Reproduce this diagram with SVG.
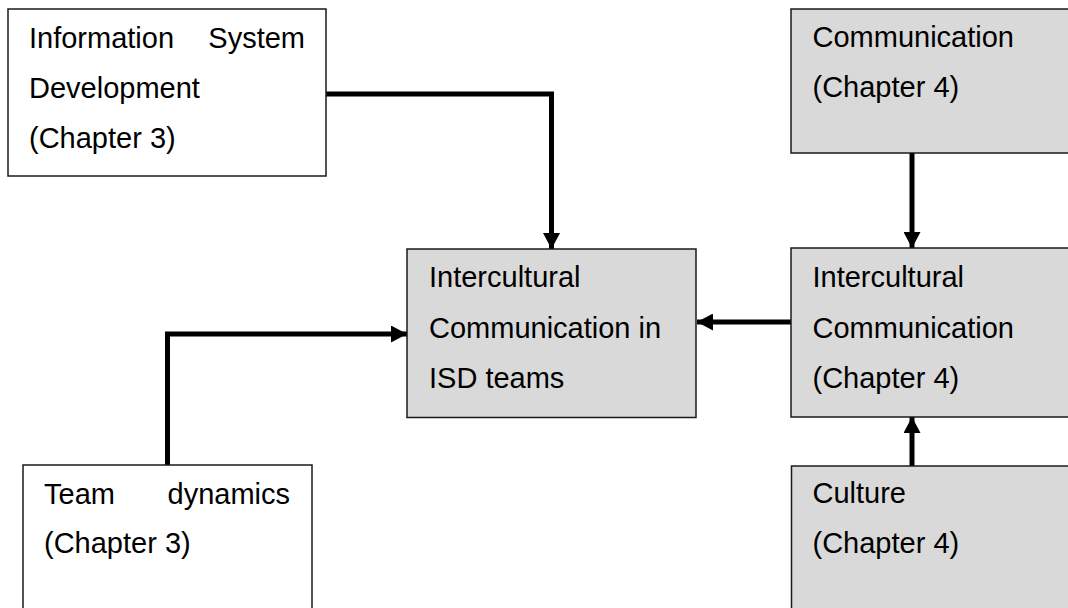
<svg xmlns="http://www.w3.org/2000/svg" width="1068" height="608" viewBox="0 0 1068 608">
  <style>
    .box { stroke: #1a1a1a; stroke-width: 1.5; }
    .plain { fill: #ffffff; }
    .shaded { fill: #d9d9d9; }
    .lbl { font-family: "Liberation Sans", Arial, sans-serif; font-size: 29px; fill: #000000; }
    .end { text-anchor: end; }
    .conn { fill: none; stroke: #000000; stroke-width: 5; }
  </style>
  <defs>
    <marker id="arrow" viewBox="0 0 16 17" refX="16" refY="8.5" markerWidth="16" markerHeight="17" markerUnits="userSpaceOnUse" orient="auto">
      <path d="M0,0 L16,8.5 L0,17 Z" fill="#000000"/>
    </marker>
  </defs>
  <rect width="1068" height="608" fill="#ffffff"/>

  <g id="connectors">
    <!-- ISD -> centre (top) -->
    <path class="conn" d="M326,94 H551.5 V249" marker-end="url(#arrow)"/>
    <!-- Team dynamics -> centre (left) -->
    <path class="conn" d="M167.5,465 V334 H407" marker-end="url(#arrow)"/>
    <!-- Intercultural Communication -> centre (right) -->
    <path class="conn" d="M791,322 H697" marker-end="url(#arrow)"/>
    <!-- Communication -> Intercultural Communication -->
    <path class="conn" d="M912,153 V248" marker-end="url(#arrow)"/>
    <!-- Culture -> Intercultural Communication -->
    <path class="conn" d="M912,466 V417" marker-end="url(#arrow)"/>
  </g>

  <g id="isd">
    <rect class="box plain" x="8" y="9" width="318" height="167"/>
    <text class="lbl" x="29" y="48">Information</text>
    <text class="lbl end" x="305" y="48">System</text>
    <text class="lbl" x="29" y="98">Development</text>
    <text class="lbl" x="29" y="148">(Chapter 3)</text>
  </g>

  <g id="communication">
    <rect class="box shaded" x="791" y="9" width="290" height="144"/>
    <text class="lbl" x="812.5" y="47">Communication</text>
    <text class="lbl" x="812.5" y="97">(Chapter 4)</text>
  </g>

  <g id="icc-isd">
    <rect class="box shaded" x="407" y="249" width="289" height="168.5"/>
    <text class="lbl" x="429" y="287">Intercultural</text>
    <text class="lbl" x="429" y="338">Communication in</text>
    <text class="lbl" x="429" y="388">ISD teams</text>
  </g>

  <g id="intercultural-communication">
    <rect class="box shaded" x="791" y="248" width="290" height="169"/>
    <text class="lbl" x="812.5" y="287">Intercultural</text>
    <text class="lbl" x="812.5" y="338">Communication</text>
    <text class="lbl" x="812.5" y="388">(Chapter 4)</text>
  </g>

  <g id="team-dynamics">
    <rect class="box plain" x="23" y="465" width="289" height="160"/>
    <text class="lbl" x="44" y="504">Team</text>
    <text class="lbl end" x="290" y="504">dynamics</text>
    <text class="lbl" x="44" y="553">(Chapter 3)</text>
  </g>

  <g id="culture">
    <rect class="box shaded" x="791.5" y="466" width="290" height="160"/>
    <text class="lbl" x="812.5" y="503">Culture</text>
    <text class="lbl" x="812.5" y="553">(Chapter 4)</text>
  </g>
</svg>
